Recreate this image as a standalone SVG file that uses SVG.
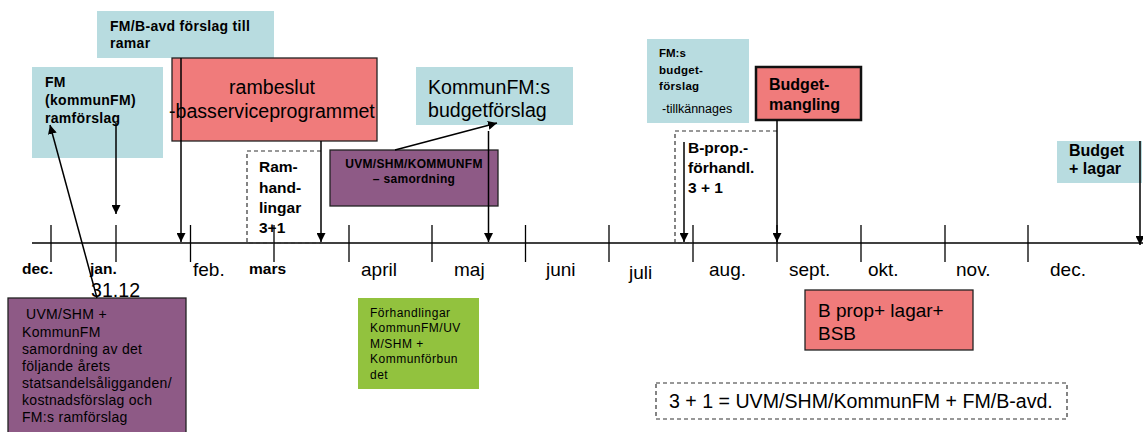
<svg xmlns="http://www.w3.org/2000/svg" width="1143" height="432" viewBox="0 0 1143 432">
<defs>
<marker id="ah" viewBox="0 0 10 10" refX="10" refY="5" markerWidth="9" markerHeight="9" markerUnits="userSpaceOnUse" orient="auto">
<path d="M0,0 L10,5 L0,10 z" fill="#000"/>
</marker>
<style>
text{font-family:"Liberation Sans",Arial,sans-serif;fill:#000}
.blue{fill:#B8DCE0}
.red{fill:#F07B7B;stroke:#222;stroke-width:1.3}
.purple{fill:#8E5A86;stroke:#222;stroke-width:1.3}
.green{fill:#92C23E}
.dash{fill:none;stroke:#333;stroke-width:1.2;stroke-dasharray:4 3}
.b14{font-size:14px;font-weight:bold;letter-spacing:0.3px}
.b16{font-size:16px;font-weight:bold}
.n20{font-size:19.6px}
.mon{font-size:19px}
.mb{font-size:15.5px;font-weight:bold}
.conn{stroke:#000;stroke-width:1.5;fill:none}
.tick{stroke:#000;stroke-width:1.3}
</style>
</defs>

<g id="timeline">
<line x1="32" y1="243" x2="1143" y2="243" stroke="#000" stroke-width="1.6"/>
<line class="tick" x1="51" y1="225" x2="51" y2="262"/>
<line class="tick" x1="116" y1="225" x2="116" y2="262"/>
<line class="tick" x1="190.5" y1="225" x2="190.5" y2="262"/>
<line class="tick" x1="274" y1="225" x2="274" y2="262"/>
<line class="tick" x1="349" y1="225" x2="349" y2="262"/>
<line class="tick" x1="432" y1="225" x2="432" y2="262"/>
<line class="tick" x1="525.5" y1="225" x2="525.5" y2="262"/>
<line class="tick" x1="609" y1="225" x2="609" y2="262"/>
<line class="tick" x1="693" y1="225" x2="693" y2="262"/>
<line class="tick" x1="777" y1="225" x2="777" y2="262"/>
<line class="tick" x1="861" y1="225" x2="861" y2="262"/>
<line class="tick" x1="945" y1="225" x2="945" y2="262"/>
<line class="tick" x1="1028" y1="225" x2="1028" y2="262"/>
<text class="mb" x="22" y="274">dec.</text>
<text class="mb" x="90" y="274">jan.</text>
<text class="n20" x="91" y="297">31.12</text>
<text class="mon" x="193" y="276">feb.</text>
<text class="mb" x="249" y="274">mars</text>
<text class="mon" x="361" y="276">april</text>
<text class="mon" x="454" y="276">maj</text>
<text class="mon" x="546" y="276">juni</text>
<text class="mon" x="629" y="279">juli</text>
<text class="mon" x="709" y="276">aug.</text>
<text class="mon" x="789" y="276">sept.</text>
<text class="mon" x="868" y="276">okt.</text>
<text class="mon" x="956" y="276">nov.</text>
<text class="mon" x="1050" y="276">dec.</text>
</g>

<g id="fmb-forslag">
<rect class="blue" x="97" y="11" width="177" height="47"/>
<text class="b14" x="110" y="31">FM/B-avd förslag till</text>
<text class="b14" x="110" y="48">ramar</text>
</g>

<g id="fm-ramforslag">
<rect class="blue" x="32" y="67" width="131" height="91"/>
<text class="b14" x="45" y="87">FM</text>
<text class="b14" x="45" y="105">(kommunFM)</text>
<text class="b14" x="45" y="123">ramförslag</text>
</g>

<g id="rambeslut">
<rect class="red" x="172" y="58" width="205" height="83"/>
<text class="n20" x="272" y="94" text-anchor="middle">rambeslut</text>
<text class="n20" x="169" y="118">-basserviceprogrammet</text>
</g>

<g id="ramhandlingar">
<path class="dash" d="M321,151 H247 V243 H321"/>
<text class="mb" x="259" y="172">Ram-</text>
<text class="mb" x="259" y="193">hand-</text>
<text class="mb" x="259" y="213">lingar</text>
<text class="mb" x="259" y="233">3+1</text>
</g>

<g id="samordning">
<rect class="purple" x="330" y="150" width="168" height="56"/>
<text x="414" y="168" text-anchor="middle" font-size="12" font-weight="bold" letter-spacing="0.3">UVM/SHM/KOMMUNFM</text>
<text x="414" y="183" text-anchor="middle" font-size="12" font-weight="bold" letter-spacing="0.3">– samordning</text>
</g>

<g id="kommunfm-budget">
<rect class="blue" x="416" y="67" width="157" height="58"/>
<text class="n20" x="428" y="94">KommunFM:s</text>
<text class="n20" x="428" y="117">budgetförslag</text>
</g>

<g id="fms-budget">
<rect class="blue" x="647" y="39" width="102" height="84"/>
<text x="659" y="57" font-size="11.5" font-weight="bold">FM:s</text>
<text x="659" y="74" font-size="11.5" font-weight="bold" letter-spacing="0.3">budget-</text>
<text x="659" y="90" font-size="11.5" font-weight="bold" letter-spacing="0.3">förslag</text>
<text x="662" y="113" font-size="12.5">-tillkännages</text>
</g>

<g id="budgetmangling">
<rect x="756" y="67" width="105" height="53" fill="#F07B7B" stroke="#111" stroke-width="2.5"/>
<text class="b16" x="769" y="90">Budget-</text>
<text class="b16" x="769" y="110">mangling</text>
</g>

<g id="bprop-forhandl">
<path class="dash" d="M777,131 H675 V243 H693"/>
<text class="mb" x="688" y="153">B-prop.-</text>
<text class="mb" x="688" y="173">förhandl.</text>
<text class="mb" x="688" y="193">3 + 1</text>
</g>

<g id="budget-lagar">
<rect class="blue" x="1057" y="141" width="85" height="42"/>
<text class="b16" x="1069" y="156">Budget</text>
<text class="b16" x="1069" y="174">+ lagar</text>
</g>

<g id="uvm-kommunfm">
<rect class="purple" x="8" y="298" width="178" height="140"/>
<g font-size="14" letter-spacing="0.3">
<text x="26" y="319">UVM/SHM +</text>
<text x="22" y="337">KommunFM</text>
<text x="22" y="354">samordning av det</text>
<text x="22" y="371">följande årets</text>
<text x="22" y="388">statsandelsåligganden/</text>
<text x="22" y="405">kostnadsförslag och</text>
<text x="22" y="422">FM:s ramförslag</text>
</g>
</g>

<g id="forhandlingar">
<rect class="green" x="358" y="298" width="121" height="91"/>
<g font-size="12" letter-spacing="0.5">
<text x="370" y="317">Förhandlingar</text>
<text x="370" y="332">KommunFM/UV</text>
<text x="370" y="348">M/SHM +</text>
<text x="370" y="363">Kommunförbun</text>
<text x="370" y="379">det</text>
</g>
</g>

<g id="bprop-lagar-bsb">
<rect class="red" x="805" y="290" width="168" height="60"/>
<text x="818" y="317" font-size="19">B prop+ lagar+</text>
<text x="818" y="340" font-size="19">BSB</text>
</g>

<g id="legend">
<rect class="dash" x="656" y="383" width="411" height="36"/>
<text x="669" y="408" font-size="19.6">3 + 1 = UVM/SHM/KommunFM + FM/B-avd.</text>
</g>

<g id="connectors">
<line class="conn" x1="181" y1="58" x2="181" y2="242" marker-end="url(#ah)"/>
<line class="conn" x1="116" y1="123" x2="116" y2="214" marker-end="url(#ah)"/>
<line class="conn" x1="97" y1="298" x2="50" y2="125" marker-end="url(#ah)"/>
<line class="conn" x1="321" y1="141" x2="321" y2="242" marker-end="url(#ah)"/>
<line class="conn" x1="395" y1="150" x2="497" y2="123" marker-end="url(#ah)"/>
<line class="conn" x1="488.5" y1="131" x2="488.5" y2="242" marker-end="url(#ah)"/>
<line class="conn" x1="684" y1="142" x2="684" y2="242" marker-end="url(#ah)"/>
<line class="conn" x1="777" y1="120" x2="777" y2="242" marker-end="url(#ah)"/>
<line class="conn" x1="1140" y1="141" x2="1140" y2="245" marker-end="url(#ah)"/>
</g>
</svg>
